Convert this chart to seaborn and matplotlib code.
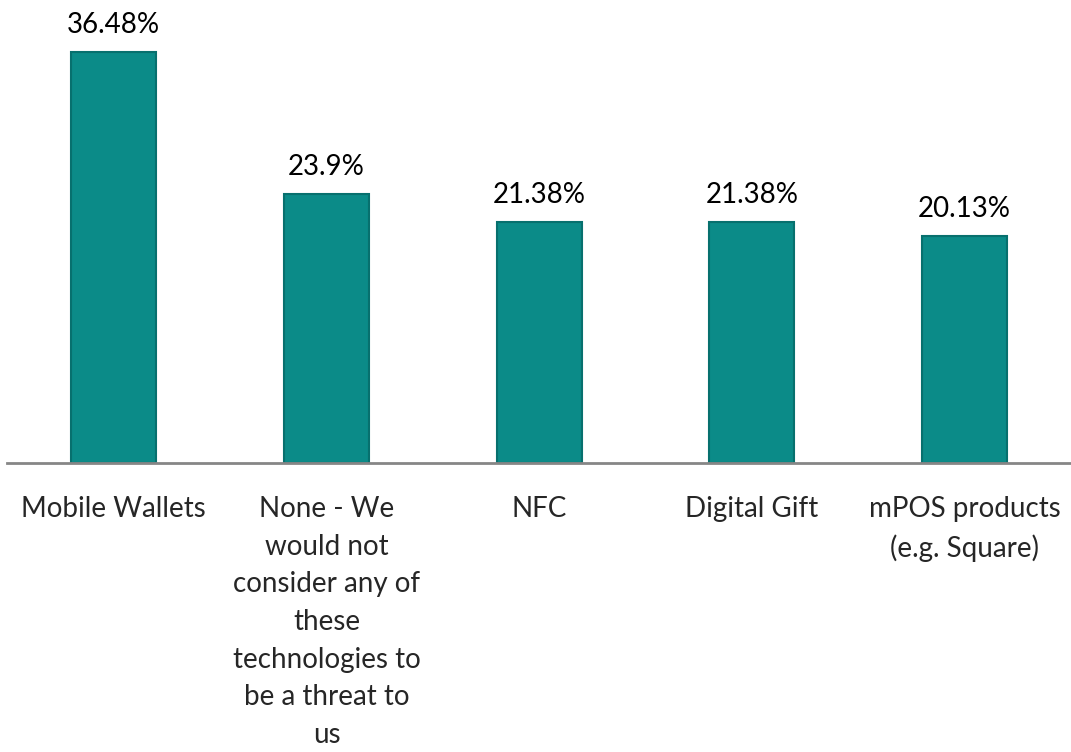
import matplotlib
matplotlib.use("Agg")
import matplotlib.pyplot as plt
import seaborn as sns
import pandas as pd

# Data
categories = [
    "Mobile Wallets",
    "None - We\nwould not\nconsider any of\nthese\ntechnologies to\nbe a threat to\nus",
    "NFC",
    "Digital Gift",
    "mPOS products\n(e.g. Square)",
]
values = [36.48, 23.9, 21.38, 21.38, 20.13]
labels = ["36.48%", "23.9%", "21.38%", "21.38%", "20.13%"]

df = pd.DataFrame({"category": categories, "value": values})

sns.set_style("white")
plt.rcParams["font.family"] = ["Lato", "DejaVu Sans"]

fig = plt.figure(figsize=(10.71, 7.52), dpi=100)
ax = fig.add_axes([0.007, 0.3843, 0.993, 0.5995])

sns.barplot(data=df, x="category", y="value", color="#0B8B88", width=0.4,
            saturation=1, edgecolor="#07706E", linewidth=1.5, ax=ax)

for i, (v, t) in enumerate(zip(values, labels)):
    ax.text(i, v + 1.25, t, ha="center", va="bottom", fontsize=20, color="black")

ax.set_ylim(0, 40)
ax.set_xlim(-0.5, 4.5)
ax.set_xlabel("")
ax.set_ylabel("")
ax.set_yticks([])
for s in ["top", "right", "left"]:
    ax.spines[s].set_visible(False)
ax.spines["bottom"].set_color("#868686")
ax.spines["bottom"].set_linewidth(2)
ax.tick_params(axis="x", length=0, pad=24, labelsize=20)
for lab in ax.get_xticklabels():
    lab.set_linespacing(1.55)

fig.savefig("out.png", dpi=100)
